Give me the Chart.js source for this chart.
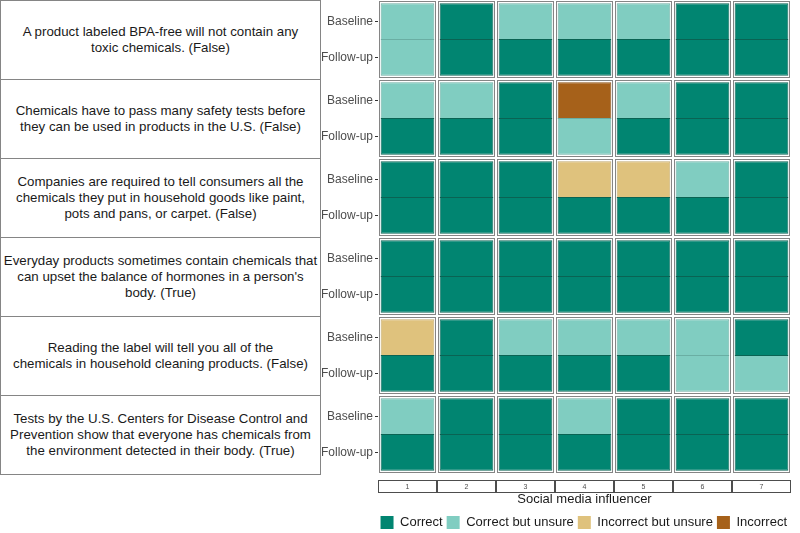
<!DOCTYPE html>
<html lang="en">
<head>
<meta charset="UTF-8">
<title>Knowledge by social media influencer</title>
<script src="https://cdn.jsdelivr.net/npm/chart.js"></script>
<style>
    html, body {
        margin: 0;
        padding: 0;
        width: 800px;
        height: 533px;
        overflow: hidden;
        background: #fff;
    }
    body {
        position: relative;
        font-family: "Liberation Sans", Arial, sans-serif;
    }
    .statement {
        position: absolute;
        left: 0;
        width: 321px;
        box-sizing: border-box;
        border: 1px solid #858585;
        display: flex;
        align-items: center;
        justify-content: center;
        text-align: center;
        white-space: pre;
        font-size: 13.3px;
        line-height: 16px;
        color: #1a1a1a;
    }
    #wrap {
        position: absolute;
        left: 322px;
        top: 0;
    }
</style>
</head>
<body>
<div id="statements"></div>
<div id="wrap"><canvas id="chart" width="478" height="539"></canvas></div>

<script>
const influencers = ['1', '2', '3', '4', '5', '6', '7'];
const timepoints = ['Baseline', 'Follow-up'];
const responses = ['Correct', 'Correct but unsure', 'Incorrect but unsure', 'Incorrect'];
const responseColors = ['#018571', '#80cdc1', '#dfc27d', '#a6611a'];
const tileEdges = ['#0a6353', '#6aaea3', '#c2a86c', '#8a5015'];

const statements = [
    'A product labeled BPA-free will not contain any\ntoxic chemicals. (False)',
    'Chemicals have to pass many safety tests before\nthey can be used in products in the U.S. (False)',
    'Companies are required to tell consumers all the\nchemicals they put in household goods like paint,\npots and pans, or carpet. (False)',
    'Everyday products sometimes contain chemicals that\ncan upset the balance of hormones in a person\'s\nbody. (True)',
    'Reading the label will tell you all of the\nchemicals in household cleaning products. (False)',
    'Tests by the U.S. Centers for Disease Control and\nPrevention show that everyone has chemicals from\nthe environment detected in their body. (True)'
];

const C = 'Correct', CU = 'Correct but unsure', IU = 'Incorrect but unsure', I = 'Incorrect';

// one row per statement, one entry per influencer
const baseline = [
    [CU, C, CU, CU, CU, C, C],
    [CU, CU, C, I, CU, C, C],
    [C, C, C, IU, IU, CU, C],
    [C, C, C, C, C, C, C],
    [IU, C, CU, CU, CU, CU, C],
    [CU, C, C, CU, C, C, C]
];
const followUp = [
    [CU, C, C, C, C, C, C],
    [C, C, C, CU, C, C, C],
    [C, C, C, C, C, C, C],
    [C, C, C, C, C, C, C],
    [C, C, C, C, C, CU, CU],
    [C, C, C, C, C, C, C]
];

const PAD = 0.08;   // gap between tile and panel edge, in row units
const SEAM = 0.015; // tiny overlap so the two tiles of a panel meet without a white seam

// build tiles: each statement takes 2 units on the y scale
const cells = [];
statements.forEach((s, r) => {
    influencers.forEach((inf, c) => {
        cells.push({ resp: baseline[r][c], x: inf, y: [2 * r + PAD, 2 * r + 1 + SEAM] });
        cells.push({ resp: followUp[r][c], x: inf, y: [2 * r + 1 - SEAM, 2 * r + 2 - PAD] });
    });
});

const datasets = responses.map((resp, k) => ({
    label: resp,
    data: cells.filter(d => d.resp === resp).map(d => ({ x: d.x, y: d.y })),
    backgroundColor: responseColors[k],
    borderColor: tileEdges[k],
    borderWidth: 1,
    borderSkipped: false,
    grouped: false,
    categoryPercentage: 1,
    barPercentage: 0.91
}));

// facet panel borders and bottom strips
const facetPanels = {
    id: 'facetPanels',
    beforeDatasetsDraw(chart) {
        const { ctx, scales: { x, y } } = chart;
        const half = (x.getPixelForValue(1) - x.getPixelForValue(0)) / 2;
        ctx.save();
        ctx.strokeStyle = '#858585';
        ctx.lineWidth = 1;
        statements.forEach((s, r) => {
            const top = Math.round(y.getPixelForValue(2 * r));
            const bottom = Math.round(y.getPixelForValue(2 * r + 2));
            influencers.forEach((inf, c) => {
                const cx = x.getPixelForValue(c);
                const left = Math.round(cx - half), right = Math.round(cx + half);
                ctx.strokeRect(left + 1.5, top + 1.5, right - left - 3, bottom - top - 3);
            });
        });
        ctx.restore();
    },
    afterDraw(chart) {
        const { ctx, chartArea, scales: { x } } = chart;
        const half = (x.getPixelForValue(1) - x.getPixelForValue(0)) / 2;
        ctx.save();
        ctx.strokeStyle = '#4d4d4d';
        ctx.lineWidth = 1;
        const top = Math.round(chartArea.bottom) + 6.5;
        influencers.forEach((inf, c) => {
            const cx = x.getPixelForValue(c);
            const left = Math.round(cx - half), right = Math.round(cx + half);
            ctx.strokeRect(left + 0.5, top, right - left - 1, 12);
        });
        ctx.restore();
    }
};

const chart = new Chart(document.getElementById('chart').getContext('2d'), {
    type: 'bar',
    data: { labels: influencers, datasets: datasets },
    options: {
        responsive: false,
        animation: false,
        layout: { padding: { top: 0, right: 9, bottom: 0, left: 0 } },
        plugins: {
            legend: {
                position: 'bottom',
                align: 'end',
                labels: {
                    boxWidth: 13,
                    boxHeight: 13,
                    padding: 4,
                    color: '#1a1a1a',
                    font: { family: '"Liberation Sans", Arial, sans-serif', size: 13 },
                    generateLabels: ch => Chart.defaults.plugins.legend.labels.generateLabels(ch)
                        .map(item => Object.assign(item, { lineWidth: 0 }))
                }
            },
            tooltip: {
                callbacks: {
                    label: item => item.dataset.label
                }
            }
        },
        scales: {
            x: {
                type: 'category',
                offset: true,
                grid: { display: false, drawTicks: false },
                border: { display: false },
                ticks: {
                    padding: 9,
                    color: '#4d4d4d',
                    font: { family: '"Liberation Sans", Arial, sans-serif', size: 7 }
                },
                title: {
                    display: true,
                    text: 'Social media influencer',
                    color: '#1a1a1a',
                    padding: { top: 0, bottom: 5 },
                    font: { family: '"Liberation Sans", Arial, sans-serif', size: 13 }
                },
                afterFit: scale => { scale.height = 38; }
            },
            y: {
                type: 'linear',
                min: 0,
                max: 12,
                reverse: true,
                border: { display: false },
                grid: {
                    drawOnChartArea: false,
                    drawTicks: true,
                    tickLength: 3,
                    color: '#333'
                },
                // one tick at the middle of each tile
                afterBuildTicks: scale => {
                    scale.ticks = [];
                    statements.forEach((s, r) => {
                        scale.ticks.push({ value: 2 * r + (1 + PAD) / 2 });
                        scale.ticks.push({ value: 2 * r + 1 + (1 - PAD) / 2 });
                    });
                },
                ticks: {
                    padding: 2,
                    color: '#4d4d4d',
                    font: { family: '"Liberation Sans", Arial, sans-serif', size: 12 },
                    callback: v => timepoints[Math.floor(v) % 2]
                },
                afterFit: scale => {
                    scale.width = 56;
                    scale.paddingTop = 0;
                    scale.paddingBottom = 0;
                }
            }
        }
    },
    plugins: [facetPanels]
});

// statement boxes on the left, lined up with the facet rows
const yScale = chart.scales.y;
const box = document.getElementById('statements');
statements.forEach((s, r) => {
    const top = Math.round(yScale.getPixelForValue(2 * r));
    const bottom = Math.round(yScale.getPixelForValue(2 * r + 2));
    const div = document.createElement('div');
    div.className = 'statement';
    div.style.top = top + 'px';
    div.style.height = (bottom - top + 1) + 'px';
    div.textContent = s;
    box.appendChild(div);
});
</script>
</body>
</html>
